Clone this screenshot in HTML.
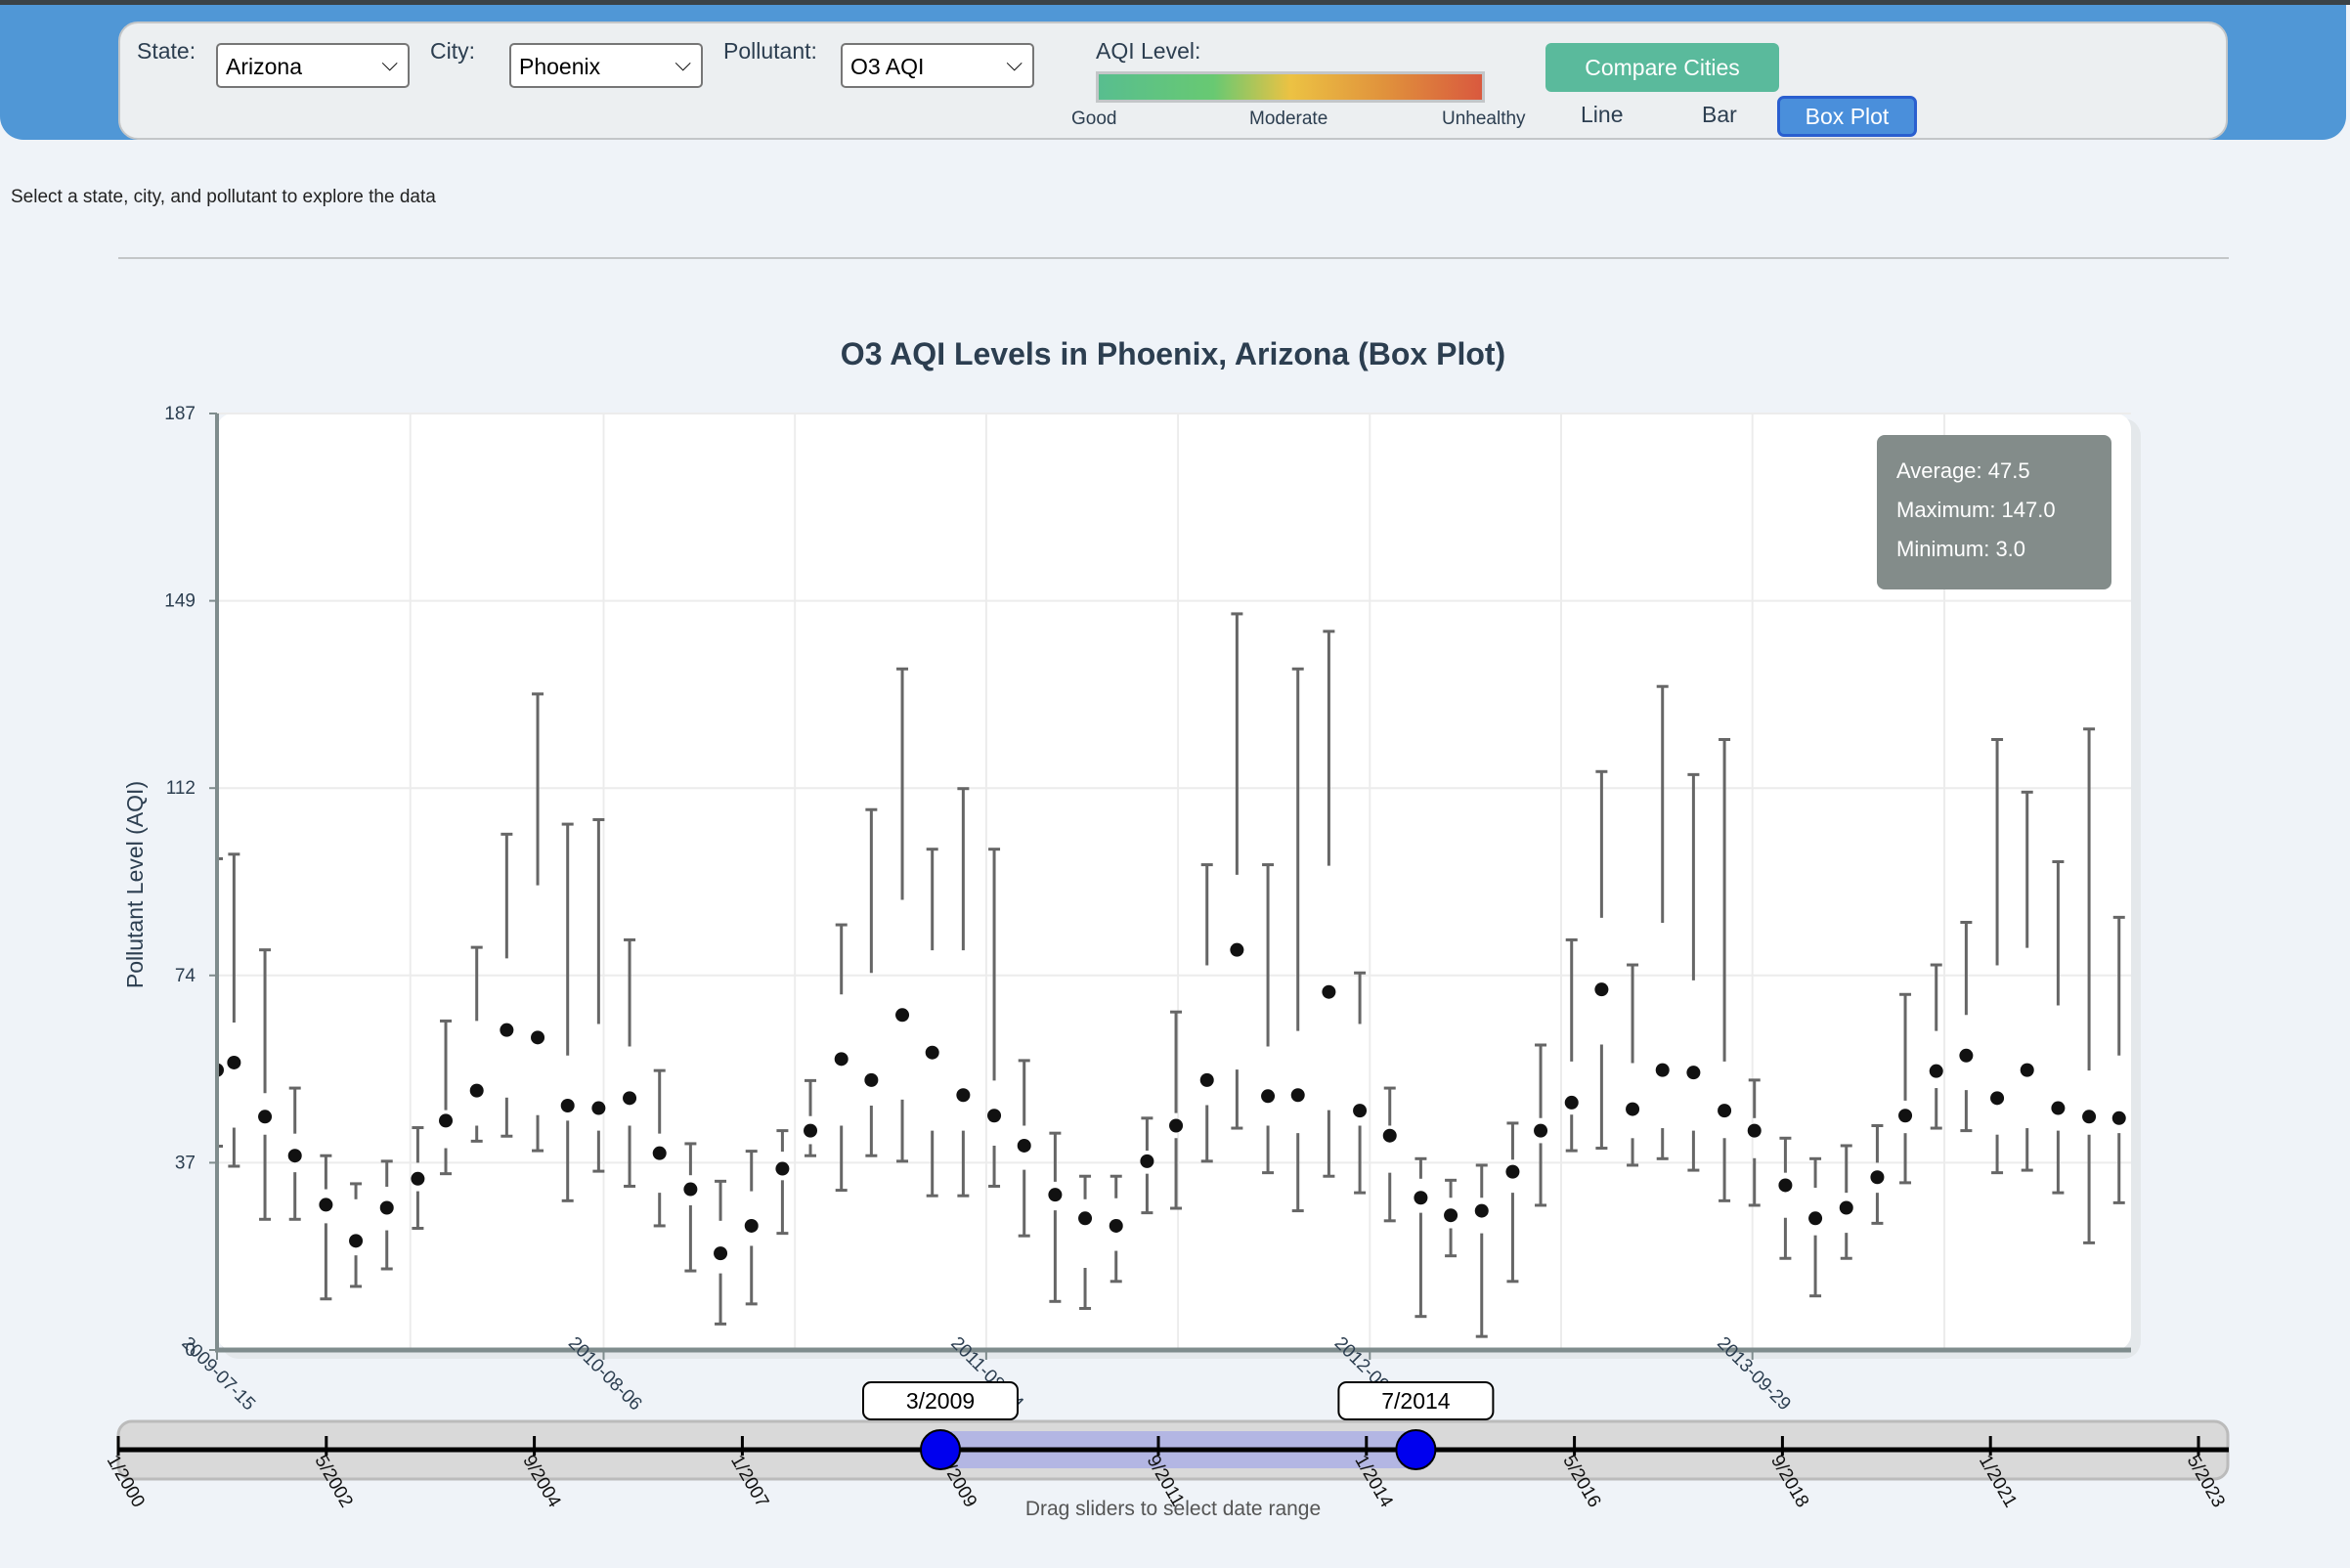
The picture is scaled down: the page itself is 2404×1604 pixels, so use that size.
<!DOCTYPE html>
<html><head><meta charset="utf-8"><style>
body{margin:0;width:2404px;height:1604px;background:#eff3f8;font-family:"Liberation Sans",sans-serif;position:relative;overflow:hidden;color:#2c3e50}
.abs{position:absolute}
.lbl{font-size:23px;color:#2c3e50}
.sel{position:absolute;height:46px;background:#fff;border:2px solid #767676;border-radius:5px;font-size:23px;color:#000;box-sizing:border-box;padding:9px 8px}
.sel span.chev{position:absolute;right:10px;top:6px;font-size:22px}
</style></head><body>
<div class="abs" style="left:0;top:0;width:2404px;height:5px;background:#3b4246"></div>
<div class="abs" style="left:0;top:5px;width:2400px;height:138px;background:#5097d6;border-radius:0 0 24px 24px"></div>
<div class="abs" style="left:121px;top:22px;width:2158px;height:121px;background:#eceff1;border:2px solid #c3c6c8;border-radius:20px;box-sizing:border-box"></div>
<div class="abs lbl" style="left:140px;top:39px">State:</div>
<div class="sel" style="left:221px;top:44px;width:198px">Arizona<span class="chev">&#x2335;</span></div>
<div class="abs lbl" style="left:440px;top:39px">City:</div>
<div class="sel" style="left:521px;top:44px;width:198px">Phoenix<span class="chev">&#x2335;</span></div>
<div class="abs lbl" style="left:740px;top:39px">Pollutant:</div>
<div class="sel" style="left:860px;top:44px;width:198px">O3 AQI<span class="chev">&#x2335;</span></div>
<div class="abs lbl" style="left:1121px;top:39px">AQI Level:</div>
<div class="abs" style="left:1121px;top:73px;width:398px;height:32px;box-sizing:border-box;border:3px solid #c3c6c8;background:linear-gradient(90deg,#58be8f,#68c972 30%,#ecc243 50%,#e0913c 75%,#d9593e)"></div>
<div class="abs" style="left:1096px;top:111px;font-size:19px">Good</div>
<div class="abs" style="left:1278px;top:111px;font-size:19px">Moderate</div>
<div class="abs" style="left:1475px;top:111px;font-size:19px">Unhealthy</div>
<div class="abs" style="left:1581px;top:44px;width:239px;height:50px;background:#5aba9c;border-radius:6px;color:#fff;font-size:23px;text-align:center;line-height:50px">Compare Cities</div>
<div class="abs" style="left:1617px;top:104px;font-size:23px">Line</div>
<div class="abs" style="left:1741px;top:104px;font-size:23px">Bar</div>
<div class="abs" style="left:1818px;top:98px;width:143px;height:42px;box-sizing:border-box;background:#4a8fdb;border:3px solid #2a5fcf;border-radius:7px;color:#fff;font-size:23px;text-align:center;line-height:36px">Box Plot</div>
<div class="abs" style="left:11px;top:191px;font-size:19px;color:#222">Select a state, city, and pollutant to explore the data</div>
<div class="abs" style="left:121px;top:263px;width:2159px;height:2px;background:#c3c6c8"></div>
<svg id="chart" class="abs" style="left:0;top:0" width="2404" height="1604"></svg>
<script>
const dates=["2009-07-15","2009-08-01","2009-09-01","2009-10-01","2009-11-01","2009-12-01","2010-01-01","2010-02-01","2010-03-01","2010-04-01","2010-05-01","2010-06-01","2010-07-01","2010-08-01","2010-09-01","2010-10-01","2010-11-01","2010-12-01","2011-01-01","2011-02-01","2011-03-01","2011-04-01","2011-05-01","2011-06-01","2011-07-01","2011-08-01","2011-09-01","2011-10-01","2011-11-01","2011-12-01","2012-01-01","2012-02-01","2012-03-01","2012-04-01","2012-05-01","2012-06-01","2012-07-01","2012-08-01","2012-09-01","2012-10-01","2012-11-01","2012-12-01","2013-01-01","2013-02-01","2013-03-01","2013-04-01","2013-05-01","2013-06-01","2013-07-01","2013-08-01","2013-09-01","2013-10-01","2013-11-01","2013-12-01","2014-01-01","2014-02-01","2014-03-01","2014-04-01","2014-05-01","2014-06-01","2014-07-01","2014-08-01","2014-09-01","2014-10-01"];
const maxV=[98.1,99.0,79.9,52.3,38.8,33.2,37.7,44.4,65.7,80.4,103.0,131.0,105.0,105.9,81.9,55.8,41.2,33.7,39.7,43.8,53.8,84.9,107.9,136.0,100.0,112.1,100.0,57.8,43.3,34.7,34.7,46.3,67.5,96.9,147.0,96.9,136.0,143.5,75.3,52.3,38.2,33.9,36.9,45.3,60.9,81.9,115.5,76.9,132.5,114.9,121.9,53.9,42.3,38.2,40.8,44.8,71.0,76.9,85.4,121.9,111.4,97.5,124.0,86.4];
const q3V=[76.6,65.4,51.3,43.2,32.1,30.1,32.6,37.4,47.9,65.7,78.2,92.8,58.8,65.1,60.6,43.2,34.9,25.8,31.7,39.6,46.7,71.0,75.3,89.9,79.8,79.8,53.8,44.8,33.6,30.1,30.3,39.8,47.3,76.8,94.9,60.6,63.7,96.7,65.1,44.8,34.2,30.4,30.4,38.0,46.3,57.6,86.3,57.3,85.3,73.8,57.6,46.3,35.4,32.4,31.4,37.4,49.8,63.7,66.9,76.8,80.3,68.8,55.8,58.8];
const medV=[55.9,57.4,46.6,38.8,29.0,21.8,28.4,34.2,45.8,51.8,63.9,62.4,48.8,48.3,50.3,39.3,32.1,19.3,24.8,36.2,43.8,58.1,53.9,66.9,59.4,50.9,46.8,40.8,31.0,26.3,24.8,37.7,44.8,53.9,79.9,50.7,50.9,71.5,47.8,42.8,30.4,26.9,27.8,35.6,43.8,49.4,72.0,48.1,55.9,55.4,47.8,43.8,32.9,26.3,28.4,34.5,46.8,55.7,58.8,50.3,55.9,48.3,46.6,46.3];
const q1V=[44.2,44.4,43.0,35.5,25.3,18.9,23.9,31.7,40.3,44.8,50.4,46.9,45.8,43.8,44.8,31.4,28.9,15.3,20.8,33.9,41.1,44.8,48.8,50.0,43.8,43.8,40.8,36.0,27.9,16.4,19.8,35.2,42.3,48.9,56.0,44.8,43.3,47.9,44.8,35.4,27.4,24.3,23.3,31.4,41.3,47.0,61.0,42.3,44.3,43.8,42.3,38.3,26.4,22.9,23.4,31.4,43.3,52.3,51.9,43.0,44.3,43.8,43.0,43.3];
const minV=[40.7,36.7,26.1,26.1,10.2,12.7,16.2,24.3,35.2,41.7,42.7,39.8,29.8,35.7,32.7,24.8,15.8,5.2,9.2,23.3,38.8,31.9,38.8,37.7,30.8,30.8,32.7,22.8,9.7,8.3,13.7,27.4,28.3,37.7,44.3,35.4,27.8,34.7,31.4,25.8,6.7,18.8,2.7,13.7,28.9,39.8,40.3,36.9,38.2,35.9,29.8,28.9,18.3,10.8,18.3,25.3,33.4,44.3,43.8,35.4,35.9,31.4,21.4,29.4];
const yTicks=[0,37,74,112,149,187];
const yTickVals=[0,37.4,74.8,112.2,149.6,187];
const xTickLabels=["2009-07-15","2010-08-06","2011-08-24","2012-09-11","2013-09-29"];
const sliderTicks=["1/2000","5/2002","9/2004","1/2007","5/2009","9/2011","1/2014","5/2016","9/2018","1/2021","5/2023"];
const rangeStart="3/2009", rangeEnd="7/2014";
const stats=["Average: 47.5","Maximum: 147.0","Minimum: 3.0"];

const NS="http://www.w3.org/2000/svg";
const svg=document.getElementById('chart');
function mk(t,a,p){const e=document.createElementNS(NS,t);for(const k in a)e.setAttribute(k,a[k]);(p||svg).appendChild(e);return e;}
const L=222,R=2180,T=423,B=1381;
const d0=Date.parse("2009-07-15"),d1=Date.parse("2014-10-13");
const x=d=>L+(Date.parse(d)-d0)/(d1-d0)*(R-L);
const y=v=>B-v/187*(B-T);
const defs=mk('defs',{});
const cp=mk('clipPath',{id:'clip'},defs);mk('rect',{x:L,y:T-20,width:R-L,height:B-T+20},cp);
const card=mk('rect',{x:226,y:428,width:1964,height:962,rx:18,fill:'#e4e8eb'});

const bg=mk('rect',{x:L,y:T,width:R-L,height:B-T,rx:16,fill:'#fff'});

const gridDays=[];
for(let i=0;i<xTickLabels.length;i++){const t=Date.parse(xTickLabels[i]);gridDays.push(t);if(i<xTickLabels.length-1){gridDays.push((t+Date.parse(xTickLabels[i+1]))/2);}}
const stepG=(Date.parse(xTickLabels[4])-Date.parse(xTickLabels[0]))/8;
gridDays.push(Date.parse(xTickLabels[4])+stepG);
gridDays.forEach(t=>{const gx=L+(t-d0)/(d1-d0)*(R-L);const g=mk('line',{x1:gx,x2:gx,y1:T,y2:B,stroke:'#ececec','stroke-width':2});});
yTickVals.forEach((v,i)=>{const gy=y(v);const g=mk('line',{x1:L,x2:R,y1:gy,y2:gy,stroke:'#ececec','stroke-width':2});
const tk=mk('line',{x1:L-8,x2:L,y1:gy,y2:gy,stroke:'#7f8c8d','stroke-width':2});
const tl=mk('text',{x:L-22,y:gy+6,'text-anchor':'end','font-size':19,fill:'#2c3e50'});tl.textContent=yTicks[i];});
const marks=mk('g',{'clip-path':'url(#clip)'});
dates.forEach((d,i)=>{const cx=x(d);const g=mk('g',{},marks);
const st={stroke:'#666','stroke-width':3};
mk('line',Object.assign({x1:cx,x2:cx,y1:y(maxV[i]),y2:y(q3V[i])},st),g);
mk('line',Object.assign({x1:cx-6,x2:cx+6,y1:y(maxV[i]),y2:y(maxV[i])},st),g);
mk('line',Object.assign({x1:cx,x2:cx,y1:y(q1V[i]),y2:y(minV[i])},st),g);
mk('line',Object.assign({x1:cx-6,x2:cx+6,y1:y(minV[i]),y2:y(minV[i])},st),g);
mk('circle',{cx:cx,cy:y(medV[i]),r:7,fill:'#111'},g);});
const ya=mk('line',{x1:L,x2:L,y1:T,y2:B+2,stroke:'#7f8c8d','stroke-width':4});
const xa=mk('line',{x1:L-2,x2:R,y1:B,y2:B,stroke:'#7f8c8d','stroke-width':5});
xTickLabels.forEach(s=>{const tx=x(s);const tk=mk('line',{x1:tx,x2:tx,y1:B,y2:B+10,stroke:'#7f8c8d','stroke-width':2});
const t=mk('text',{x:0,y:0,transform:`translate(${tx-37},${B-6}) rotate(45)`,'font-size':19,fill:'#2c3e50'});t.textContent=s;});
const yt=mk('text',{transform:'translate(146,905) rotate(-90)','text-anchor':'middle','font-size':23,fill:'#2c3e50'});yt.textContent='Pollutant Level (AQI)';
const ti=mk('text',{x:1200,y:373,'text-anchor':'middle','font-size':32,'font-weight':'bold',fill:'#2c3e50'});ti.textContent='O3 AQI Levels in Phoenix, Arizona (Box Plot)';
const sb=mk('g',{});
mk('rect',{x:1920,y:445,width:240,height:158,rx:8,fill:'#838c8a'},sb);
stats.forEach((s,i)=>{const t=mk('text',{x:1940,y:489+i*40,'font-size':22,fill:'#fff'},sb);t.textContent=s;});
const SL=121,SR=2249,SY=1483;
const mo=s=>{const p=s.split('/');return (+p[1]-2000)*12+(+p[0]-1);};
const sx=s=>SL+mo(s)/mo(sliderTicks[sliderTicks.length-1])*(SR-SL);
const hOff=5;
const tr=mk('rect',{x:121,y:1454,width:2158,height:59,rx:14,fill:'#d9d9d9',stroke:'#bbb','stroke-width':3});
const sel=mk('rect',{x:sx(rangeStart)+hOff,y:1464,width:sx(rangeEnd)-sx(rangeStart),height:38,fill:'#b3b6e3'});
mk('line',{x1:SL,x2:2280,y1:SY,y2:SY,stroke:'#000','stroke-width':5});
sliderTicks.forEach(s=>{const tx=sx(s);mk('line',{x1:tx,x2:tx,y1:SY-14,y2:SY+6,stroke:'#000','stroke-width':3});
const t=mk('text',{transform:`translate(${tx-12},${SY+10}) rotate(60)`,'font-size':19,fill:'#111'});t.textContent=s;});
[rangeStart,rangeEnd].forEach((s,i)=>{const hx=sx(s)+hOff;
const b=mk('g',{});
mk('rect',{x:hx-79,y:1414,width:158,height:38,rx:8,fill:'#fff',stroke:'#000','stroke-width':2},b);
const t=mk('text',{x:hx,y:1441,'text-anchor':'middle','font-size':23,fill:'#000'},b);t.textContent=s;
const c=mk('circle',{cx:hx,cy:SY,r:20,fill:'#0000ee',stroke:'#000','stroke-width':2});});
const dl=mk('text',{x:1200,y:1550,'text-anchor':'middle','font-size':21,fill:'#555'});dl.textContent='Drag sliders to select date range';
</script>
</body></html>
